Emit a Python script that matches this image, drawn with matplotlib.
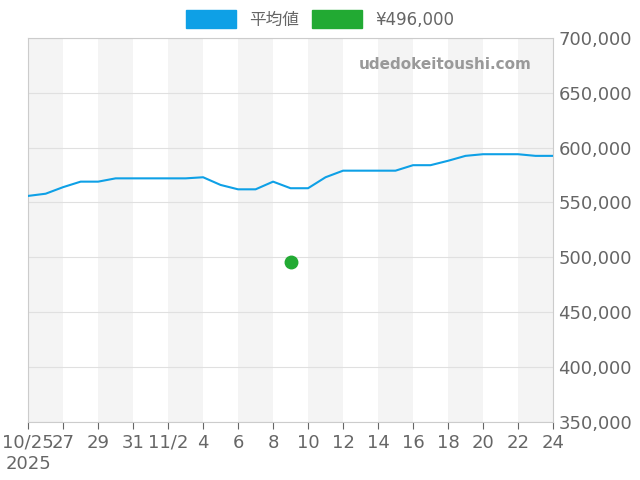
import matplotlib
matplotlib.use('Agg')
import matplotlib.pyplot as plt
import numpy as np
import datetime as dt

plt.rcParams['font.family'] = ['DejaVu Sans', 'Noto Sans CJK JP']

start = dt.date(2025, 10, 25)
avg_prices = [556000, 558000, 564000, 569000, 569000, 572000, 572000, 572000, 572000, 572000,
              573000, 566000, 562000, 562000, 569000, 563000, 563000, 573000, 579000, 579000,
              579000, 579000, 584000, 584000, 588000, 592500, 594000, 594000, 594000, 592500, 592500]
dates = [start + dt.timedelta(days=i) for i in range(len(avg_prices))]
point_date = [dt.date(2025, 11, 9)]
point_price = [496000]

fig = plt.figure(figsize=(6.4, 4.8), dpi=100)
ax = fig.add_axes([0.044, 0.121, 0.820, 0.800])

for i in range(0, len(dates) - 1, 4):
    ax.axvspan(dates[i], dates[i] + dt.timedelta(days=2), color='#f4f4f4', lw=0, zorder=0)

ax.plot(dates, avg_prices, color='#0ea0e6', lw=1.5, label='平均値', zorder=3)
ax.plot(point_date, point_price, 'o', color='#22aa33', ms=9, label='¥496,000', zorder=4)

ax.set_xlim(dates[0], dates[-1])
ax.set_ylim(350000, 700000)
ax.yaxis.tick_right()
ax.set_yticks(np.arange(350000, 700001, 50000))
ax.yaxis.set_major_formatter(matplotlib.ticker.FuncFormatter(lambda v, p: f"{int(v):,}"))
ax.grid(axis='y', color='#e0e0e0', lw=0.8, zorder=1)
ax.set_axisbelow('line')

ticks = dates[::2]
labels = []
for d in ticks:
    if d == dates[0]:
        labels.append('10/25\n2025')
    elif d.day == 2 and d.month == 11:
        labels.append('11/2')
    else:
        labels.append(str(d.day))
ax.set_xticks(ticks)
ax.set_xticklabels(labels)
ax.tick_params(colors='#666666', labelsize=13, length=5)
ax.tick_params(axis='y', length=0, pad=4)
for s in ax.spines.values():
    s.set_color('#cccccc')

ax.text(0.96, 0.93, 'udedokeitoushi.com', transform=ax.transAxes, ha='right', va='center',
        color='#999999', fontsize=11, fontweight='bold')

handles = [plt.Rectangle((0, 0), 1, 1, color='#0ea0e6'), plt.Rectangle((0, 0), 1, 1, color='#22aa33')]
fig.legend(handles, ['平均値', '¥496,000'], loc='upper center', bbox_to_anchor=(0.5, 1.01), ncol=2,
           frameon=False, fontsize=12, handlelength=3, handleheight=1.3, labelcolor='#666666', columnspacing=0.8)

fig.savefig('out.png')
